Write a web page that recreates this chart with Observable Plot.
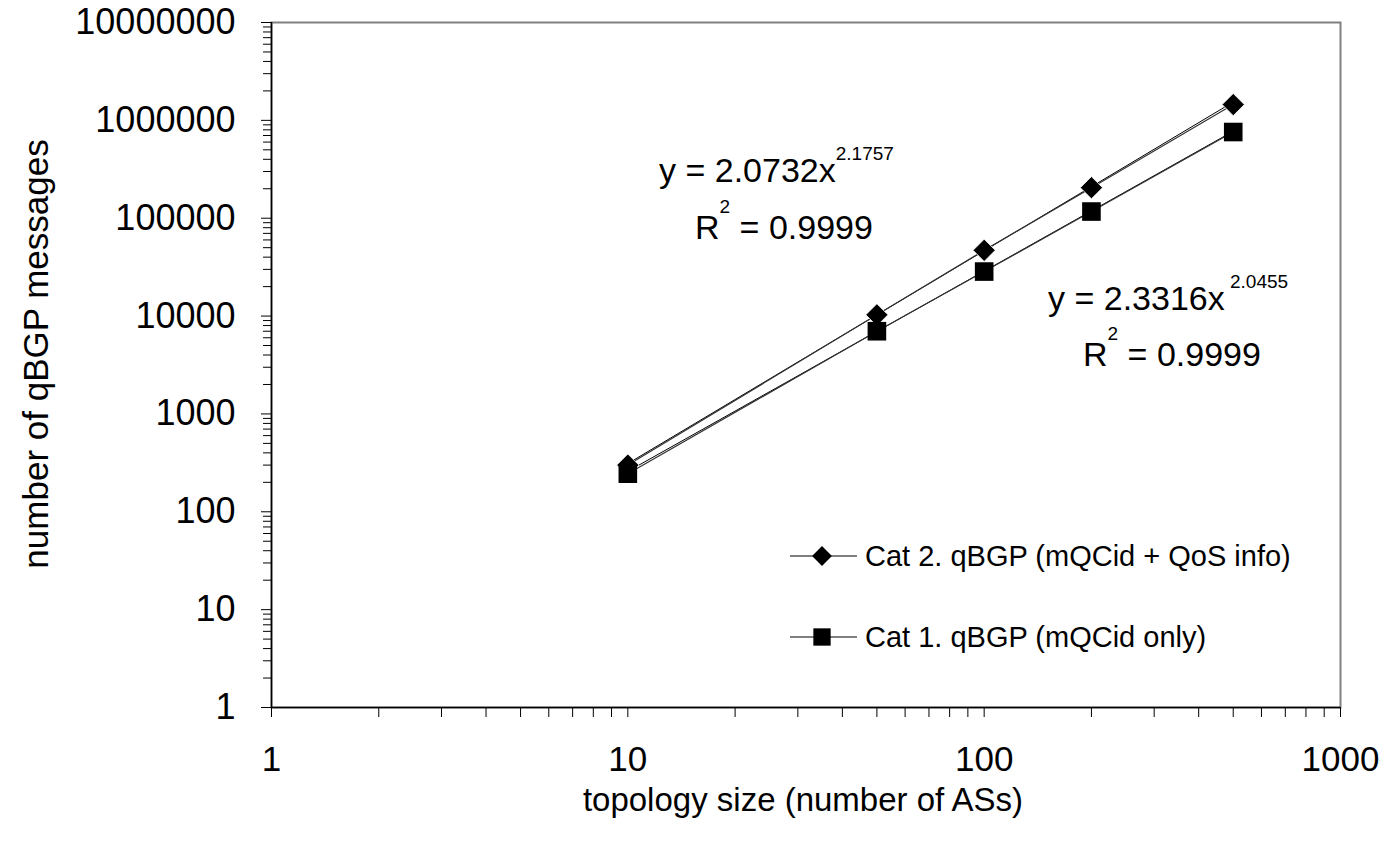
<!DOCTYPE html>
<html><head><meta charset="utf-8">
<script src="https://cdn.jsdelivr.net/npm/d3@7"></script>
<script src="https://cdn.jsdelivr.net/npm/@observablehq/plot@0.6"></script>
<style>
body{margin:0;background:#fff}
#chart{position:relative;width:1385px;height:841px}
</style>
</head><body><div id="chart"></div>
<script>
// ---- data ----
const topologySize = [10, 50, 100, 200, 500];
const cat2Messages = [300, 10300, 47000, 205000, 1450000];
const cat1Messages = [245, 7000, 28500, 117000, 760000];
const trendX = [10, 500];
const cat2Trend = [311, 1540000];
const cat1Trend = [259, 774000];
const xTicks = [1, 10, 100, 1000];
const yTicks = [1, 10, 100, 1000, 10000, 100000, 1000000, 10000000];
const seriesNames = ["Cat 2. qBGP (mQCid + QoS info)", "Cat 1. qBGP (mQCid only)"];
const eq1 = ["y = 2.0732x", "2.1757"];
const eq2 = ["y = 2.3316x", " 2.0455"];
const r2Value = " = 0.9999";
const xTitle = "topology size (number of ASs)";
const yTitle = "number of qBGP messages";

const minorOf = (decades) => decades.slice(0, -1).flatMap(d => [2,3,4,5,6,7,8,9].map(k => k * d));
const xMinor = minorOf(xTicks);
const yMinor = minorOf(yTicks);

const pts = (xs, ys) => xs.map((x, i) => ({x, y: ys[i]}));
const cat2 = pts(topologySize, cat2Messages);
const cat1 = pts(topologySize, cat1Messages);
const cat2T = pts(trendX, cat2Trend);
const cat1T = pts(trendX, cat1Trend);

const font = "'Liberation Sans', Arial, sans-serif";

const plot = Plot.plot({
  width: 1385, height: 841,
  marginLeft: 271, marginRight: 45, marginTop: 22, marginBottom: 134,
  style: {fontFamily: font, background: "#fff", color: "#000", overflow: "visible"},
  x: {type: "log", domain: [1, 1000]},
  y: {type: "log", domain: [1, 1e7]},
  marks: [
    Plot.frame({stroke: "#808080", strokeWidth: 2}),
    Plot.axisY({ticks: yMinor, tickSize: 8, tickFormat: () => "", stroke: "#000", label: null}),
    Plot.axisY({ticks: yTicks, tickSize: 10, tickPadding: 26, tickFormat: d3.format("d"), fontSize: 36, stroke: "#000", fill: "#000", label: null}),
    Plot.axisX({ticks: xMinor, tickSize: 10, tickFormat: () => "", stroke: "#000", label: null}),
    Plot.axisX({ticks: xTicks, tickSize: 10, tickPadding: 29, tickFormat: d3.format("d"), fontSize: 35, stroke: "#000", fill: "#000", label: null}),
    Plot.ruleX([1], {stroke: "#000", strokeWidth: 1.5}),
    Plot.ruleY([1], {stroke: "#000", strokeWidth: 1.5}),
    Plot.line(cat2T, {x: "x", y: "y", stroke: "#000", strokeWidth: 1}),
    Plot.line(cat1T, {x: "x", y: "y", stroke: "#000", strokeWidth: 1}),
    Plot.line(cat2, {x: "x", y: "y", stroke: "#333", strokeWidth: 1.2}),
    Plot.line(cat1, {x: "x", y: "y", stroke: "#333", strokeWidth: 1.2}),
    Plot.dot(cat2, {x: "x", y: "y", symbol: "diamond2", r: 10, fill: "#000", stroke: "#fff", strokeWidth: 0.8}),
    Plot.dot(cat1, {x: "x", y: "y", symbol: "square", r: 10.5, fill: "#000"})
  ]
});
document.getElementById("chart").appendChild(plot);

const svg = d3.select(plot);
// axis titles
svg.append("text").attr("x", 803).attr("y", 811).attr("text-anchor", "middle")
  .attr("font-family", font).attr("font-size", 33).attr("fill", "#000").text(xTitle);
svg.append("text").attr("transform", "translate(48,354) rotate(-90)").attr("text-anchor", "middle")
  .attr("font-family", font).attr("font-size", 35).attr("fill", "#000").text(yTitle);

// equations
function eqLine(x, y, main, sup, supDy) {
  const t = svg.append("text").attr("x", x).attr("y", y).attr("text-anchor", "start")
    .attr("font-family", font).attr("font-size", 34).attr("fill", "#000");
  t.append("tspan").text(main);
  t.append("tspan").attr("font-size", 19).attr("dy", supDy).text(sup);
}
function r2Line(x, y) {
  const t = svg.append("text").attr("x", x).attr("y", y).attr("text-anchor", "start")
    .attr("font-family", font).attr("font-size", 34).attr("fill", "#000");
  t.append("tspan").text("R");
  t.append("tspan").attr("font-size", 19).attr("dy", -26).text("2");
  t.append("tspan").attr("dy", 26).text(r2Value);
}
eqLine(659, 182, eq1[0], eq1[1], -22);
r2Line(695, 239);
eqLine(1048, 310, eq2[0], eq2[1], -22);
r2Line(1083, 366);

// legend
const lg = svg.append("g").attr("font-family", font).attr("font-size", 29).attr("fill", "#000").attr("text-anchor", "start");
const rows = [{y: 556, sym: d3.symbolDiamond2, size: 250}, {y: 637, sym: d3.symbolSquare, size: 300}];
rows.forEach((r, i) => {
  lg.append("line").attr("x1", 790).attr("x2", 857).attr("y1", r.y).attr("y2", r.y).attr("stroke", "#000").attr("stroke-width", 1);
  lg.append("path").attr("d", d3.symbol(r.sym, r.size)()).attr("transform", `translate(822,${r.y})`).attr("fill", "#000");
  lg.append("text").attr("x", 865).attr("y", r.y + 10).text(seriesNames[i]);
});
</script>
</body></html>
